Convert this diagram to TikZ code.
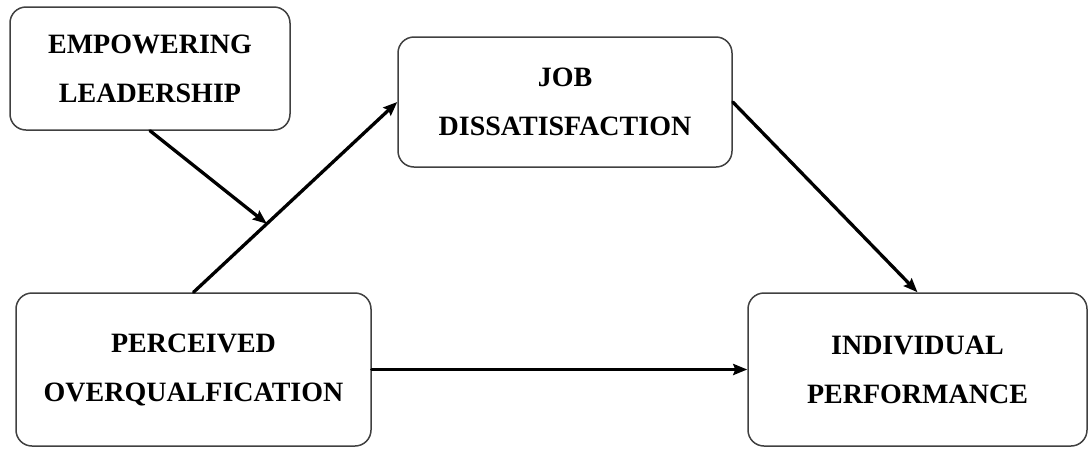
\documentclass[tikz,border=0pt]{standalone}
\usepackage{fontspec}
\setmainfont{Liberation Serif}
\usepackage{xcolor}
\usetikzlibrary{arrows.meta}

\begin{document}
\begin{tikzpicture}[
            x=1pt, y=-1pt,
            box/.style={rectangle, draw=black!75, line width=1.5pt, rounded corners=16pt, align=center, inner sep=0pt, font=\fontsize{28}{49}\selectfont\bfseries},
            arrow/.style={-{Stealth[length=14pt, width=11pt, inset=2pt]}, line width=3.3pt, line cap=round}
        ]
        \useasboundingbox (0,0) rectangle (1088,448);

        % Moderator
        \node[box, minimum width=280pt, minimum height=123pt] (lead) at (150,68.5) {EMPOWERING\\LEADERSHIP};

        % Mediator
        \node[box, minimum width=334pt, minimum height=130pt] (dissat) at (565,102) {JOB\\DISSATISFACTION};

        % Predictor and outcome
        \node[box, minimum width=355pt, minimum height=153pt] (overq) at (193.5,369.5) {PERCEIVED\\OVERQUALFICATION};
        \node[box, minimum width=339pt, minimum height=153pt] (perf) at (917.5,369.5) {INDIVIDUAL\\PERFORMANCE};

        % Arrows
        \draw[arrow] (overq.north) -- (dissat.west) coordinate[pos=0.36] (mod);
        \draw[arrow] (dissat.east) -- (perf.north);
        \draw[arrow] (overq.east) -- (perf.west);

        % Moderation
        \draw[arrow] (lead.south) -- (mod);

\end{tikzpicture}
\end{document}
